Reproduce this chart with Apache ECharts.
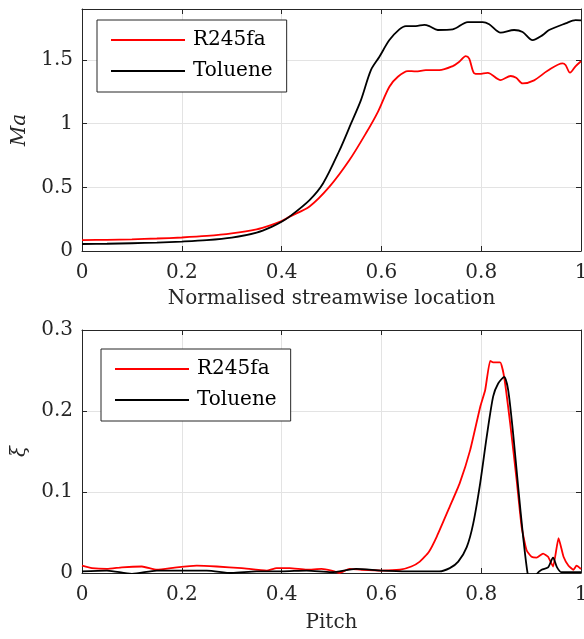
<!DOCTYPE html>
<html>
<head>
<meta charset="utf-8">
<script src="https://cdn.jsdelivr.net/npm/echarts@6/dist/echarts.min.js"></script>
<style>
html,body{margin:0;padding:0;background:#fff;}
#main{width:584px;height:639px;}
</style>
</head>
<body>
<div id="main"></div>
<script>
// ---- Top panel: Mach number vs normalised streamwise location ----
const maR245faX = [0,0.05,0.1,0.15,0.2,0.25,0.3,0.35,0.38,0.4,0.416,0.456,0.496,0.536,0.569,0.593,0.616,0.633,0.653,0.669,0.689,0.716,0.743,0.756,0.769,0.776,0.786,0.796,0.813,0.839,0.859,0.870,0.883,0.906,0.933,0.963,0.969,0.978,0.989,1.0];
const maR245faY = [0.086,0.088,0.092,0.098,0.106,0.118,0.138,0.17,0.205,0.235,0.27,0.35,0.505,0.714,0.924,1.093,1.29,1.368,1.413,1.41,1.42,1.42,1.452,1.486,1.53,1.51,1.395,1.39,1.398,1.342,1.374,1.36,1.316,1.34,1.415,1.473,1.46,1.40,1.45,1.49];
const maTolueneX = [0,0.05,0.1,0.15,0.2,0.25,0.3,0.35,0.38,0.4,0.416,0.456,0.483,0.516,0.539,0.559,0.579,0.596,0.616,0.636,0.649,0.669,0.686,0.696,0.713,0.743,0.773,0.803,0.816,0.839,0.866,0.883,0.903,0.923,0.936,0.969,0.989,1.0];
const maTolueneY = [0.055,0.057,0.061,0.066,0.074,0.085,0.105,0.145,0.19,0.23,0.27,0.40,0.53,0.79,1.0,1.185,1.42,1.525,1.656,1.74,1.766,1.766,1.776,1.766,1.735,1.74,1.797,1.797,1.78,1.714,1.735,1.72,1.656,1.695,1.735,1.787,1.813,1.81];

// ---- Bottom panel: loss coefficient xi vs pitch ----
const xiR245faX = [0,0.02,0.05,0.08,0.12,0.15,0.19,0.23,0.27,0.32,0.37,0.39,0.416,0.45,0.48,0.5,0.516,0.536,0.56,0.6,0.637,0.66,0.677,0.695,0.711,0.737,0.757,0.778,0.798,0.808,0.818,0.824,0.838,0.846,0.858,0.871,0.881,0.891,0.901,0.911,0.924,0.934,0.944,0.955,0.965,0.975,0.985,0.991,1.0];
const xiR245faY = [0.009,0.006,0.005,0.007,0.008,0.004,0.007,0.009,0.008,0.006,0.003,0.006,0.006,0.004,0.005,0.003,0.0,0.005,0.004,0.003,0.004,0.008,0.014,0.026,0.045,0.082,0.111,0.152,0.205,0.226,0.262,0.26,0.26,0.242,0.185,0.115,0.057,0.028,0.02,0.019,0.024,0.02,0.008,0.043,0.02,0.009,0.004,0.009,0.005];
const xiTolueneX = [0,0.05,0.1,0.15,0.2,0.25,0.3,0.35,0.4,0.45,0.5,0.549,0.6,0.65,0.716,0.737,0.754,0.771,0.784,0.798,0.811,0.824,0.834,0.846,0.854,0.864,0.874,0.884,0.894,0.903,0.912,0.921,0.934,0.944,0.952,0.961,1.0];
const xiTolueneY = [0.002,0.003,-0.001,0.003,0.003,0.003,0.0,0.002,0.002,0.003,0.001,0.005,0.003,0.002,0.002,0.006,0.014,0.032,0.061,0.111,0.168,0.218,0.234,0.242,0.226,0.172,0.107,0.045,-0.004,-0.015,-0.001,0.004,0.007,0.019,0.007,0.001,0.001];

const seriesNames = ['R245fa','Toluene'];

const pair = (xs, ys) => xs.map((x,i)=>[x, ys[i]]);

const FONT = 'DejaVu Serif';
const TXT = '#262626';
const GRIDC = '#e3e3e3';

function xAxes(gi, name, gap){
  const base = {
    type:'value', gridIndex:gi, min:0, max:1, interval:0.2,
    axisLine:{show:true, onZero:false, lineStyle:{color:TXT, width:1}},
    axisTick:{show:true, inside:true, length:5, lineStyle:{color:TXT}},
  };
  return [
    Object.assign({}, base, {
      position:'bottom',
      axisLabel:{color:TXT, fontFamily:FONT, fontSize:20, margin:12},
      splitLine:{show:true, lineStyle:{color:GRIDC, width:1}},
      name:name, nameLocation:'middle', nameGap:gap,
      nameTextStyle:{color:TXT, fontFamily:FONT, fontSize:20}
    }),
    Object.assign({}, base, {
      position:'top', axisLabel:{show:false}, splitLine:{show:false}
    })
  ];
}
function yAxes(gi, max, interval, name, showMax){
  const base = {
    type:'value', gridIndex:gi, min:0, max:max, interval:interval,
    axisLine:{show:true, onZero:false, lineStyle:{color:TXT, width:1}},
    axisTick:{show:true, inside:true, length:5, lineStyle:{color:TXT}},
  };
  return [
    Object.assign({}, base, {
      position:'left',
      axisLabel:{color:TXT, fontFamily:FONT, fontSize:20, margin:9, showMaxLabel:showMax},
      splitLine:{show:true, lineStyle:{color:GRIDC, width:1}},
      name:name, nameLocation:'middle', nameGap:52, nameRotate:90,
      nameTextStyle:{color:TXT, fontFamily:FONT, fontSize:20, fontStyle:'italic'}
    }),
    Object.assign({}, base, {
      position:'right', axisLabel:{show:false}, splitLine:{show:false}
    })
  ];
}

function legend(left, top){
  return {
    data: seriesNames.map(n=>({name:n, icon:'rect'})),
    left:left, top:top, orient:'vertical',
    borderColor:TXT, borderWidth:1, backgroundColor:'#fff',
    padding:[10,14,11,14],
    itemWidth:74, itemHeight:2, itemGap:11,
    textStyle:{color:'#000', fontFamily:FONT, fontSize:20, lineHeight:20, padding:[0,0,0,3]},
    selectedMode:false
  };
}

const chart = echarts.init(document.getElementById('main'), null, {renderer:'canvas'});
const lineSeries = (name, data, xi, yi, color, smooth) => ({
  name:name, type:'line', xAxisIndex:xi, yAxisIndex:yi, data:data,
  symbol:'none', smooth:smooth, clip:true,
  lineStyle:{color:color, width:1.8}, itemStyle:{color:color},
  animation:false
});

chart.setOption({
  animation:false,
  backgroundColor:'#fff',
  grid:[
    {left:82, right:3, top:9, height:242, outerBoundsMode:'none', containLabel:false},
    {left:82, right:3, top:330, height:243, outerBoundsMode:'none', containLabel:false}
  ],
  xAxis: xAxes(0,'Normalised streamwise location',38).concat(xAxes(1,'Pitch',40)),
  yAxis: yAxes(0,1.9,0.5,'Ma',false).concat(yAxes(1,0.3,0.1,'ξ',true)),
  legend:[legend(97,20), legend(101,349)],
  series:[
    lineSeries('R245fa', pair(maR245faX, maR245faY), 0, 0, '#ff0000', 0.3),
    lineSeries('Toluene', pair(maTolueneX, maTolueneY), 0, 0, '#000000', 0.3),
    lineSeries('R245fa', pair(xiR245faX, xiR245faY), 2, 2, '#ff0000', 0.15),
    lineSeries('Toluene', pair(xiTolueneX, xiTolueneY), 2, 2, '#000000', 0.25)
  ]
});
</script>
</body>
</html>
